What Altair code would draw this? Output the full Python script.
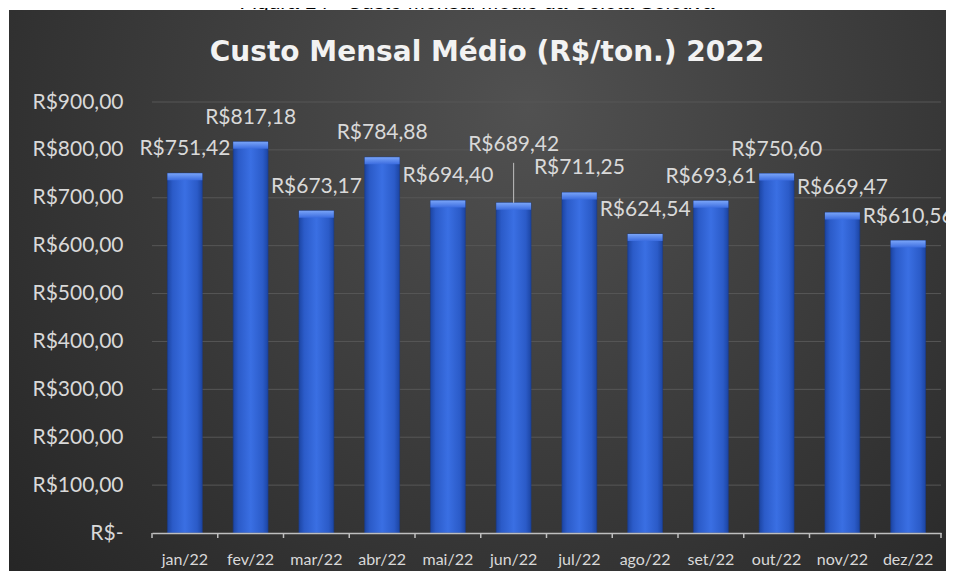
import altair as alt
import pandas as pd

meses = ["jan/22", "fev/22", "mar/22", "abr/22", "mai/22", "jun/22",
         "jul/22", "ago/22", "set/22", "out/22", "nov/22", "dez/22"]
valores = [751.42, 817.18, 673.17, 784.88, 694.40, 689.42,
           711.25, 624.54, 693.61, 750.60, 669.47, 610.56]
y_ticks = [0, 100, 200, 300, 400, 500, 600, 700, 800, 900]
titulo = "Custo Mensal Médio (R$/ton.) 2022"
legenda_figura = "Figura 14 - Custo Mensal Médio da Coleta Seletiva"
mes_com_guia = "jun/22"

df = pd.DataFrame({"mes": meses, "valor": valores})
df_grid = pd.DataFrame({"valor": y_ticks[1:]})

W, H = 789, 431
FONT = "Lato"
TXT = "#d9d9d9"

x_scale = alt.Scale(domain=meses, paddingInner=0, paddingOuter=0)
y_scale = alt.Scale(domain=[0, 900], nice=False)

fmt_axis = "datum.value == 0 ? 'R$-' : 'R$' + replace(format(datum.value, '.2f'), '.', ',')"
fmt_lbl = "'R$' + replace(format(datum.valor, '.2f'), '.', ',')"

x_axis = alt.Axis(title=None, labelAngle=0, ticks=False, domain=True,
                  domainColor="#bfbfbf", domainWidth=1.5, grid=False,
                  labelColor=TXT, labelFont=FONT, labelFontSize=16,
                  labelPadding=18, zindex=1)
y_axis = alt.Axis(title=None, values=y_ticks, labelExpr=fmt_axis,
                  domain=False, ticks=False, grid=False,
                  labelColor=TXT, labelFont=FONT, labelFontSize=21,
                  labelPadding=29, zindex=1)

x_enc = alt.X("mes:N", scale=x_scale, sort=meses, axis=x_axis)
y_enc = alt.Y("valor:Q", scale=y_scale, axis=y_axis)

one = alt.Data(values=[{}])

caption = alt.Chart(one).mark_text(
    text=legenda_figura, font="Liberation Sans", fontSize=21, color="#000000",
    align="center", baseline="alphabetic"
).encode(x=alt.value(325), y=alt.value(-93))

bg_grad = alt.RadialGradient(
    gradient="radial", x1=0.55, y1=0.3, x2=0.55, y2=0.3, r1=0, r2=0.75,
    stops=[alt.GradientStop(offset=0, color="#515151"),
           alt.GradientStop(offset=1, color="#252525")])

background = alt.Chart(one).mark_rect(fill=bg_grad).encode(
    x=alt.value(-143), x2=alt.value(801), y=alt.value(-92), y2=alt.value(480))

title = alt.Chart(one).mark_text(
    text=titulo, font="DejaVu Sans", fontSize=28, fontWeight="bold",
    color="#f2f2f2", align="center", baseline="alphabetic"
).encode(x=alt.value(335), y=alt.value(-41))

grid = alt.Chart(df_grid).mark_rule(color="#575757", strokeWidth=1).encode(
    y=alt.Y("valor:Q", scale=y_scale, axis=y_axis))

bar_grad = alt.LinearGradient(
    gradient="linear", x1=0, x2=1, y1=0, y2=0,
    stops=[alt.GradientStop(offset=0, color="#1c45a3"),
           alt.GradientStop(offset=0.15, color="#2b5bc8"),
           alt.GradientStop(offset=0.5, color="#3a6fe3"),
           alt.GradientStop(offset=0.85, color="#2b5bc8"),
           alt.GradientStop(offset=1, color="#1c45a3")])

top_grad = alt.LinearGradient(
    gradient="linear", x1=0, x2=0, y1=0, y2=1,
    stops=[alt.GradientStop(offset=0, color="#79a4f8"),
           alt.GradientStop(offset=1, color="#3c6de0")])

base = alt.Chart(df)

bars = base.mark_bar(fill=bar_grad, stroke="#1a3c8f", strokeWidth=0.6,
                     width=alt.RelativeBandSize(0.53)).encode(x=x_enc, y=y_enc)

bevel = base.mark_bar(fill=top_grad, width=alt.RelativeBandSize(0.53),
                      y2Offset=7).encode(
    x=x_enc, y=y_enc, y2=alt.Y2("valor:Q"))

ticks = base.mark_rule(color="#bfbfbf", strokeWidth=1.5).encode(
    x=alt.X("mes:N", scale=x_scale, sort=meses, bandPosition=0, axis=x_axis),
    y=alt.value(H), y2=alt.value(H + 5))

tick_end = base.transform_filter(alt.datum.mes == meses[-1]).mark_rule(
    color="#bfbfbf", strokeWidth=1.5).encode(
    x=alt.X("mes:N", scale=x_scale, sort=meses, bandPosition=1, axis=x_axis),
    y=alt.value(H), y2=alt.value(H + 5))

labels = base.transform_filter(alt.datum.mes != mes_com_guia).transform_calculate(
    rotulo=fmt_lbl).mark_text(
    font=FONT, fontSize=21, color=TXT, baseline="middle", dy=-24).encode(
    x=x_enc, y=y_enc, text="rotulo:N")

label_guide = base.transform_filter(alt.datum.mes == mes_com_guia).transform_calculate(
    rotulo=fmt_lbl).mark_text(
    font=FONT, fontSize=21, color=TXT, baseline="middle", dy=-58).encode(
    x=x_enc, y=y_enc, text="rotulo:N")

guide = base.transform_filter(alt.datum.mes == mes_com_guia).mark_rule(
    color="#bfbfbf", strokeWidth=1, y2Offset=-40).encode(
    x=x_enc, y=y_enc, y2=alt.Y2("valor:Q"))

chart = alt.layer(
    caption, background, title, grid, bars, bevel, ticks,
    tick_end, guide, labels, label_guide
).properties(
    width=W, height=H,
    autosize=alt.AutoSizeParams(type="none"),
    padding={"left": 144, "top": 94, "right": 5, "bottom": 38},
).configure_view(stroke=None)

chart.save("out.html", embed_options={"renderer": "svg", "actions": False})
